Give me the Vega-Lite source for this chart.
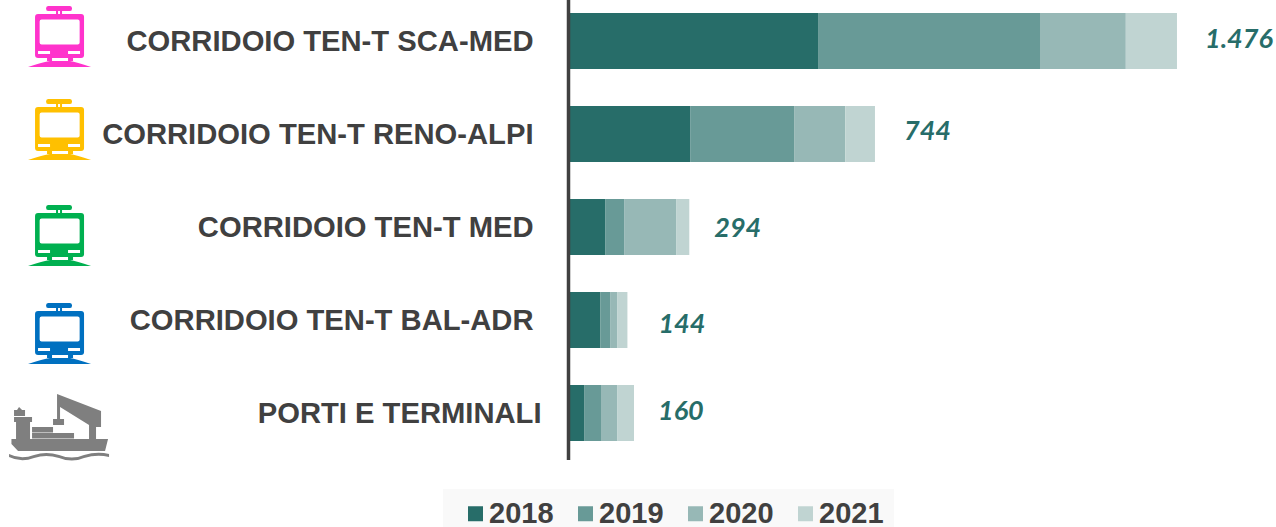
{
"$schema":"https://vega.github.io/schema/vega-lite/v6.json",
"width":708,"height":460,
"autosize":{"type":"none"},
"padding":{"left":568,"top":0,"right":0,"bottom":67},
"background":"white",
"config":{"view":{"stroke":null},"font":"Liberation Sans"},
"datasets":{
"anni":[
{"corridoio":"CORRIDOIO TEN-T SCA-MED","anno":"2018","valore":606},
{"corridoio":"CORRIDOIO TEN-T SCA-MED","anno":"2019","valore":538},
{"corridoio":"CORRIDOIO TEN-T SCA-MED","anno":"2020","valore":208},
{"corridoio":"CORRIDOIO TEN-T SCA-MED","anno":"2021","valore":124},
{"corridoio":"CORRIDOIO TEN-T RENO-ALPI","anno":"2018","valore":296},
{"corridoio":"CORRIDOIO TEN-T RENO-ALPI","anno":"2019","valore":252},
{"corridoio":"CORRIDOIO TEN-T RENO-ALPI","anno":"2020","valore":124},
{"corridoio":"CORRIDOIO TEN-T RENO-ALPI","anno":"2021","valore":72},
{"corridoio":"CORRIDOIO TEN-T MED","anno":"2018","valore":90},
{"corridoio":"CORRIDOIO TEN-T MED","anno":"2019","valore":46},
{"corridoio":"CORRIDOIO TEN-T MED","anno":"2020","valore":126},
{"corridoio":"CORRIDOIO TEN-T MED","anno":"2021","valore":32},
{"corridoio":"CORRIDOIO TEN-T BAL-ADR","anno":"2018","valore":78},
{"corridoio":"CORRIDOIO TEN-T BAL-ADR","anno":"2019","valore":24},
{"corridoio":"CORRIDOIO TEN-T BAL-ADR","anno":"2020","valore":17},
{"corridoio":"CORRIDOIO TEN-T BAL-ADR","anno":"2021","valore":25},
{"corridoio":"PORTI E TERMINALI","anno":"2018","valore":39},
{"corridoio":"PORTI E TERMINALI","anno":"2019","valore":41},
{"corridoio":"PORTI E TERMINALI","anno":"2020","valore":39},
{"corridoio":"PORTI E TERMINALI","anno":"2021","valore":41}
],
"totali":[
{"corridoio":"CORRIDOIO TEN-T SCA-MED","totale":1476,"etichetta":"1.476"},
{"corridoio":"CORRIDOIO TEN-T RENO-ALPI","totale":744,"etichetta":"744"},
{"corridoio":"CORRIDOIO TEN-T MED","totale":294,"etichetta":"294"},
{"corridoio":"CORRIDOIO TEN-T BAL-ADR","totale":144,"etichetta":"144"},
{"corridoio":"PORTI E TERMINALI","totale":160,"etichetta":"160"}
]},
"layer":[
{"data":{"name":"anni"},
"mark":{"type":"bar"},
"encoding":{
"y":{"field":"corridoio","type":"nominal","title":null,
"scale":{"domain":["CORRIDOIO TEN-T SCA-MED","CORRIDOIO TEN-T RENO-ALPI","CORRIDOIO TEN-T MED","CORRIDOIO TEN-T BAL-ADR","PORTI E TERMINALI"],"range":[-5.5,459.5],"paddingInner":0.398,"paddingOuter":0.199},
"axis":{"ticks":false,"zindex":1,"domainColor":"#404040","domainWidth":3.5,"labelColor":"#404040","labelFontSize":29.2,"labelFontWeight":"bold","labelFont":"Liberation Sans","labelLimit":560,"grid":false,"labelOffset":1,
"labelPadding":{"condition":{"test":"datum.value == 'PORTI E TERMINALI'","value":27},"value":35}}},
"x":{"field":"valore","type":"quantitative","stack":"zero","axis":null,"scale":{"domain":[0,1716],"nice":false,"zero":false}},
"order":{"field":"anno","type":"ordinal"},
"color":{"field":"anno","type":"nominal",
"scale":{"domain":["2018","2019","2020","2021"],"range":["#276D69","#689A97","#97B8B6","#C0D4D2"]},
"legend":{"orient":"none","legendX":-125,"legendY":489,"direction":"horizontal","columns":4,"title":null,"fillColor":"#F9F9F9","padding":10,"symbolType":"square","symbolSize":225,"symbolStrokeWidth":0,"symbolOpacity":1,"symbolOffset":8,"labelFontSize":29,"labelFontWeight":"bold","labelColor":"#404040","labelFont":"Liberation Sans","labelOffset":-1,"columnPadding":9}}
}},
{"data":{"name":"totali"},"transform":[{"filter":"datum.totale == 1476"}],
"mark":{"type":"text","align":"left","baseline":"middle","dx":28,"dy":-1,"font":"Lato","fontWeight":"bold","fontStyle":"italic","fontSize":27,"color":"#276D69"},
"encoding":{"y":{"field":"corridoio","type":"nominal"},"x":{"field":"totale","type":"quantitative"},"text":{"field":"etichetta"}}},
{"data":{"name":"totali"},"transform":[{"filter":"datum.totale == 744"}],
"mark":{"type":"text","align":"left","baseline":"middle","dx":29,"dy":-2,"font":"Lato","fontWeight":"bold","fontStyle":"italic","fontSize":27,"color":"#276D69"},
"encoding":{"y":{"field":"corridoio","type":"nominal"},"x":{"field":"totale","type":"quantitative"},"text":{"field":"etichetta"}}},
{"data":{"name":"totali"},"transform":[{"filter":"datum.totale == 294"}],
"mark":{"type":"text","align":"left","baseline":"middle","dx":25,"dy":2,"font":"Lato","fontWeight":"bold","fontStyle":"italic","fontSize":27,"color":"#276D69"},
"encoding":{"y":{"field":"corridoio","type":"nominal"},"x":{"field":"totale","type":"quantitative"},"text":{"field":"etichetta"}}},
{"data":{"name":"totali"},"transform":[{"filter":"datum.totale == 144"}],
"mark":{"type":"text","align":"left","baseline":"middle","dx":31,"dy":5,"font":"Lato","fontWeight":"bold","fontStyle":"italic","fontSize":27,"color":"#276D69"},
"encoding":{"y":{"field":"corridoio","type":"nominal"},"x":{"field":"totale","type":"quantitative"},"text":{"field":"etichetta"}}},
{"data":{"name":"totali"},"transform":[{"filter":"datum.totale == 160"}],
"mark":{"type":"text","align":"left","baseline":"middle","dx":24,"dy":-1,"font":"Lato","fontWeight":"bold","fontStyle":"italic","fontSize":27,"color":"#276D69"},
"encoding":{"y":{"field":"corridoio","type":"nominal"},"x":{"field":"totale","type":"quantitative"},"text":{"field":"etichetta"}}},
{"data":{"name":"totali"},
"mark":{"type":"point","filled":true,"opacity":1,"size":4,"strokeWidth":0},
"encoding":{
"y":{"field":"corridoio","type":"nominal"},
"x":{"datum":-1236,"type":"quantitative"},
"fill":{"field":"corridoio","type":"nominal","legend":null,
"scale":{"domain":["CORRIDOIO TEN-T SCA-MED","CORRIDOIO TEN-T RENO-ALPI","CORRIDOIO TEN-T MED","CORRIDOIO TEN-T BAL-ADR","PORTI E TERMINALI"],"range":["#FF33CC","#FFC000","#00B050","#0070C0","#7F7F7F"]}},
"shape":{"field":"corridoio","type":"nominal","legend":null,
"scale":{"domain":["CORRIDOIO TEN-T SCA-MED","CORRIDOIO TEN-T RENO-ALPI","CORRIDOIO TEN-T MED","CORRIDOIO TEN-T BAL-ADR","PORTI E TERMINALI"],
"range":[
"M-10 -35h22q2 0 2 2.5q0 2.5-2 2.5h-22q-2 0-2-2.5q0-2.5 2-2.5zm8 5h2v3h-2zm4 0h2v3h-2zm-22 3h43q3 0 3 3v38q0 3-3 3h-43q-3 0-3-3v-38q0-3 3-3zm3.6 5.5q-2 0-2 2v21q0 2 2 2h36q2 0 2-2v-21q0-2-2-2zm-3.6 31.5v3h12v-3zm30 0v3h12v-3zm-21 7h5v3h-5zm21 0h5v3h-5zm-40 9q15-5 22-6h20q6 1 21 6z",
"M-10 -35h22q2 0 2 2.5q0 2.5-2 2.5h-22q-2 0-2-2.5q0-2.5 2-2.5zm8 5h2v3h-2zm4 0h2v3h-2zm-22 3h43q3 0 3 3v38q0 3-3 3h-43q-3 0-3-3v-38q0-3 3-3zm3.6 5.5q-2 0-2 2v21q0 2 2 2h36q2 0 2-2v-21q0-2-2-2zm-3.6 31.5v3h12v-3zm30 0v3h12v-3zm-21 7h5v3h-5zm21 0h5v3h-5zm-40 9q15-5 22-6h20q6 1 21 6z",
"M-10 -22h22q2 0 2 2.5q0 2.5-2 2.5h-22q-2 0-2-2.5q0-2.5 2-2.5zm8 5h2v3h-2zm4 0h2v3h-2zm-22 3h43q3 0 3 3v38q0 3-3 3h-43q-3 0-3-3v-38q0-3 3-3zm3.6 5.5q-2 0-2 2v21q0 2 2 2h36q2 0 2-2v-21q0-2-2-2zm-3.6 31.5v3h12v-3zm30 0v3h12v-3zm-21 7h5v3h-5zm21 0h5v3h-5zm-40 9q15-5 22-6h20q6 1 21 6z",
"M-10 -17h22q2 0 2 2.5q0 2.5-2 2.5h-22q-2 0-2-2.5q0-2.5 2-2.5zm8 5h2v3h-2zm4 0h2v3h-2zm-22 3h43q3 0 3 3v38q0 3-3 3h-43q-3 0-3-3v-38q0-3 3-3zm3.6 5.5q-2 0-2 2v21q0 2 2 2h36q2 0 2-2v-21q0-2-2-2zm-3.6 31.5v3h12v-3zm30 0v3h12v-3zm-21 7h5v3h-5zm21 0h5v3h-5zm-40 9q15-5 22-6h20q6 1 21 6z",
"M-46.6 26L50 26L47 38L-40 38L-46.6 31ZM-26 20L16 20L16 25.5L-26 25.5ZM-26 14L-5 14L-5 19.5L-26 19.5ZM-44 4L-26 4L-26 9L-28 9L-28 26L-42 26L-42 9L-44 9ZM-44 -3L-41 -3L-39 -6L-36 -3L-33 -3L-33 3L-44 3ZM-1 -19L43 -2L43 14L38 14L38 26L31 26L31 12L2 -6L2 7L-1 7ZM-5 6L6 6L6 12L-5 12ZM-49 41Q-37 47 -24 42Q-12 38 1 42Q14 47 26 42Q39 38 51 41L51 44Q39 41 26 45Q14 50 1 45Q-12 41 -24 45Q-37 50 -49 44Z"
]}}
}}
]
}
